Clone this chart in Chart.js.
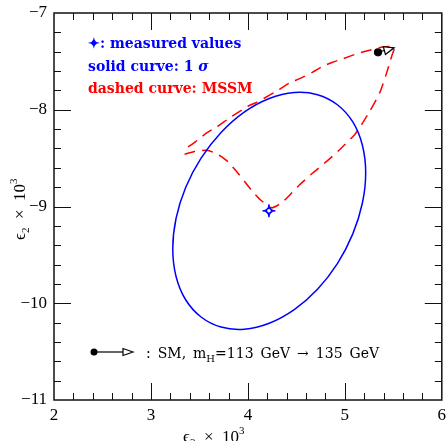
<!DOCTYPE html>
<html>
<head>
<meta charset="utf-8">
<script src="https://cdn.jsdelivr.net/npm/chart.js@4/dist/chart.umd.min.js"></script>
<style>
  body { margin: 0; background: #fff; }
  canvas { display: block; }
</style>
</head>
<body>
<canvas id="chart" width="447" height="441"></canvas>
<script>
// axis ranges and labels
const xTicks = [2, 3, 4, 5, 6];
const yTicks = [-11, -10, -9, -8, -7];

// 1 sigma contour around the measured values
const ellipseX = [5.215, 5.181, 5.082, 4.923, 4.718, 4.478, 4.220, 3.962, 3.723, 3.517, 3.358, 3.259, 3.225,
                  3.259, 3.358, 3.517, 3.723, 3.962, 4.220, 4.478, 4.718, 4.923, 5.082, 5.181, 5.215];
const ellipseY = [-8.654, -8.367, -8.126, -7.948, -7.844, -7.822, -7.884, -8.025, -8.235, -8.500, -8.803, -9.122, -9.436,
                  -9.723, -9.964, -10.142, -10.246, -10.268, -10.206, -10.065, -9.855, -9.590, -9.283, -8.964, -8.654];

// MSSM region boundary (dashed)
const mssmX = [3.347, 3.450, 3.574, 3.677, 3.790, 3.883, 3.966, 4.048, 4.141, 4.245, 4.348, 4.451, 4.534, 4.668,
               4.812, 4.946, 5.101, 5.173, 5.256, 5.359, 5.431, 5.483, 5.509, 5.390, 5.266, 5.132, 4.977, 4.874,
               4.771, 4.668, 4.534, 4.430, 4.276, 4.090, 3.997, 3.811, 3.677, 3.574, 3.450, 3.347];
const mssmY = [-8.460, -8.431, -8.418, -8.454, -8.534, -8.638, -8.741, -8.845, -8.941, -9.013, -8.962, -8.861, -8.775, -8.654,
               -8.534, -8.413, -8.258, -8.154, -8.017, -7.826, -7.619, -7.447, -7.352, -7.352, -7.383, -7.419, -7.474, -7.509,
               -7.551, -7.611, -7.678, -7.723, -7.820, -7.923, -7.965, -8.085, -8.178, -8.240, -8.337, -8.408];

// measured point
const measX = [4.217];
const measY = [-9.045];

// SM prediction, mH = 113 GeV -> 135 GeV
const smX = [5.342, 5.507];
const smY = [-7.406, -7.360];

const BLUE = '#0000ff';
const RED = '#ff0000';
const SERIF = "'Liberation Serif', 'DejaVu Serif', serif";
const BOLDSERIF = "'DejaVu Serif', serif";

function pts(xs, ys) {
  return xs.map(function (x, i) { return { x: x, y: ys[i] }; });
}
// closed loop: wrap one point on each side so the spline has no corner at the seam
function loopPts(xs, ys) {
  const p = pts(xs, ys), n = p.length;
  return [p[n - 2]].concat(p, [p[1]]);
}
function minus(v) {
  return String(v).replace('-', '\u2212');
}

function arrowHead(ctx, x0, y0, x1, y1, len, half) {
  const ang = Math.atan2(y1 - y0, x1 - x0);
  const bx = x1 - len * Math.cos(ang), by = y1 - len * Math.sin(ang);
  ctx.beginPath();
  ctx.moveTo(x1, y1);
  ctx.lineTo(bx + half * Math.sin(ang), by - half * Math.cos(ang));
  ctx.lineTo(bx - half * Math.sin(ang), by + half * Math.cos(ang));
  ctx.closePath();
  ctx.fillStyle = '#fff';
  ctx.fill();
  ctx.stroke();
}

// draws text pieces one after another, each with its own font / offset
function runText(ctx, x, y, parts) {
  parts.forEach(function (p) {
    ctx.font = p.font;
    ctx.fillStyle = p.color || '#000';
    ctx.fillText(p.t, x, y + (p.dy || 0));
    x += ctx.measureText(p.t).width;
  });
  return x;
}

// four pointed star with a small open ring in the middle
function sparkle(ctx, x, y, r) {
  ctx.beginPath();
  ctx.moveTo(x - r, y);
  ctx.quadraticCurveTo(x, y, x, y - r);
  ctx.quadraticCurveTo(x, y, x + r, y);
  ctx.quadraticCurveTo(x, y, x, y + r);
  ctx.quadraticCurveTo(x, y, x - r, y);
  ctx.stroke();
  ctx.beginPath();
  ctx.arc(x, y, 2.4, 0, Math.PI * 2);
  ctx.fillStyle = '#fff';
  ctx.fill();
  ctx.stroke();
}

const frameTicks = {
  id: 'frameTicks',
  afterDraw(chart) {
    const ctx = chart.ctx, a = chart.chartArea;
    const xs = chart.scales.x, ys = chart.scales.y;
    ctx.save();
    ctx.strokeStyle = '#111';
    ctx.lineWidth = 1;
    for (let i = 1; i < 20; i++) {
      const len = i % 5 === 0 ? 17 : 7;
      const px = Math.round(xs.getPixelForValue(2 + i * 0.2)) + 0.5;
      ctx.beginPath();
      ctx.moveTo(px, a.bottom); ctx.lineTo(px, a.bottom - len);
      ctx.moveTo(px, a.top); ctx.lineTo(px, a.top + len);
      ctx.stroke();
      const py = Math.round(ys.getPixelForValue(-11 + i * 0.2)) + 0.5;
      ctx.beginPath();
      ctx.moveTo(a.left, py); ctx.lineTo(a.left + len, py);
      ctx.moveTo(a.right, py); ctx.lineTo(a.right - len, py);
      ctx.stroke();
    }
    ctx.lineWidth = 1.5;
    ctx.strokeRect(a.left, a.top, a.right - a.left, a.bottom - a.top);

    // measured values marker
    ctx.strokeStyle = BLUE;
    ctx.lineWidth = 1.3;
    measX.forEach(function (v, i) {
      sparkle(ctx, xs.getPixelForValue(v), ys.getPixelForValue(measY[i]), 6.5);
    });

    // arrow head on the SM line
    ctx.lineWidth = 1.2;
    ctx.strokeStyle = '#000';
    const n = smX.length - 1;
    arrowHead(ctx,
      xs.getPixelForValue(smX[n - 1]), ys.getPixelForValue(smY[n - 1]),
      xs.getPixelForValue(smX[n]), ys.getPixelForValue(smY[n]), 10, 4);

    // key, upper left
    ctx.textBaseline = 'alphabetic';
    const bf = 'bold 14px ' + BOLDSERIF;
    runText(ctx, 88, 48, [{ t: '\u2726: measured values', font: bf, color: BLUE }]);
    runText(ctx, 88, 70.5, [
      { t: 'solid curve: 1 ', font: bf, color: BLUE },
      { t: '\u03c3', font: 'italic bold 14px ' + BOLDSERIF, color: BLUE }
    ]);
    runText(ctx, 88, 92.5, [{ t: 'dashed curve: MSSM', font: bf, color: RED }]);

    // key, bottom: SM arrow sample
    ctx.fillStyle = '#000';
    ctx.beginPath();
    ctx.arc(94, 352, 3.5, 0, Math.PI * 2);
    ctx.fill();
    ctx.beginPath();
    ctx.moveTo(94, 352); ctx.lineTo(124, 352);
    ctx.stroke();
    arrowHead(ctx, 94, 352, 133, 352, 10, 3.5);
    const nf = '14px ' + BOLDSERIF, sp = '\u2002';
    runText(ctx, 146, 358, [
      { t: ':' + sp + 'SM,' + sp + 'm', font: nf },
      { t: 'H', font: '10px ' + BOLDSERIF, dy: 4 },
      { t: '=113' + sp + 'GeV' + sp + '\u2192' + sp + '135' + sp + 'GeV', font: nf }
    ]);

    // axis titles
    const tf = '17px ' + SERIF, sf = '11px ' + SERIF;
    runText(ctx, 183, 441.5, [
      { t: '\u03f5', font: tf },
      { t: '3', font: sf, dy: 4 },
      { t: '  \u00d7  10', font: tf },
      { t: '3', font: sf, dy: -8 }
    ]);
    ctx.save();
    ctx.translate(25, 240);
    ctx.rotate(-Math.PI / 2);
    runText(ctx, 0, 0, [
      { t: '\u03f5', font: tf },
      { t: '2', font: sf, dy: 4 },
      { t: '  \u00d7  10', font: tf },
      { t: '3', font: sf, dy: -8 }
    ]);
    ctx.restore();
    ctx.restore();
  }
};

const ellipseData = loopPts(ellipseX, ellipseY);

new Chart(document.getElementById('chart'), {
  type: 'scatter',
  data: {
    datasets: [
      {
        data: ellipseData,
        showLine: true,
        borderColor: BLUE,
        borderWidth: 1.5,
        tension: 0.4,
        pointRadius: 0,
        segment: {
          // the wrapped end pieces are only there to shape the spline
          borderColor: function (c) {
            return (c.p0DataIndex === 0 || c.p1DataIndex === ellipseData.length - 1) ? 'rgba(0,0,0,0)' : BLUE;
          }
        }
      },
      {
        data: pts(mssmX, mssmY),
        showLine: true,
        borderColor: RED,
        borderWidth: 1.5,
        borderDash: [11, 7],
        tension: 0.2,
        pointRadius: 0
      },
      {
        data: pts(smX, smY),
        showLine: true,
        borderColor: '#000',
        borderWidth: 1.2,
        pointRadius: [3.5, 0],
        backgroundColor: '#000'
      }
    ]
  },
  options: {
    responsive: false,
    animation: false,
    devicePixelRatio: 1,
    layout: { padding: { left: 0, right: 5, top: 13, bottom: 0 } },
    plugins: {
      legend: { display: false },
      tooltip: { enabled: false }
    },
    scales: {
      x: {
        type: 'linear',
        min: xTicks[0],
        max: xTicks[xTicks.length - 1],
        afterFit: function (s) { s.height = 41; s.paddingLeft = 0; s.paddingRight = 0; },
        grid: { display: false, drawTicks: false },
        border: { display: false },
        ticks: {
          stepSize: 1,
          padding: 5,
          maxRotation: 0,
          color: '#000',
          font: { family: SERIF, size: 17 },
          callback: function (v) { return xTicks.indexOf(v) >= 0 ? minus(v) : ''; }
        }
      },
      y: {
        type: 'linear',
        min: yTicks[0],
        max: yTicks[yTicks.length - 1],
        afterFit: function (s) { s.width = 54; s.paddingTop = 0; s.paddingBottom = 0; },
        grid: { display: false, drawTicks: false },
        border: { display: false },
        ticks: {
          stepSize: 1,
          padding: 7,
          color: '#000',
          font: { family: SERIF, size: 17 },
          callback: function (v) { return yTicks.indexOf(v) >= 0 ? minus(v) : ''; }
        }
      }
    }
  },
  plugins: [frameTicks]
});
</script>
</body>
</html>
